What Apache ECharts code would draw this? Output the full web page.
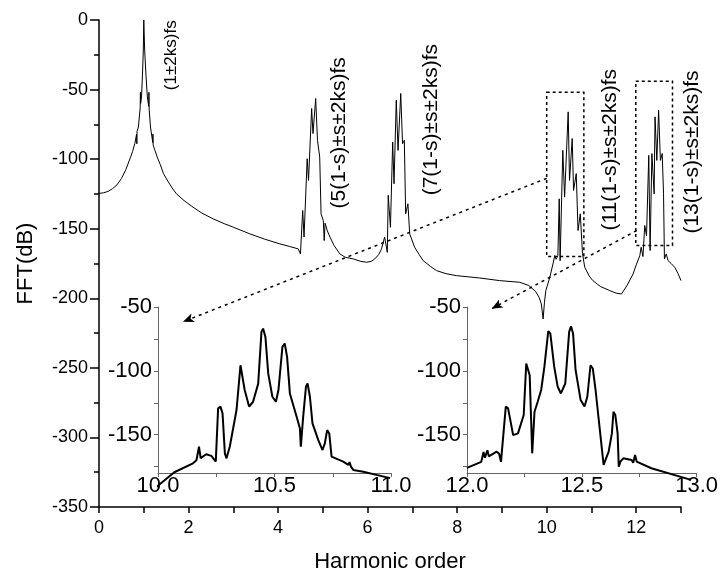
<!DOCTYPE html>
<html>
<head>
<meta charset="utf-8">
<script src="https://cdn.jsdelivr.net/npm/echarts@6/dist/echarts.min.js"></script>
<style>
  html, body { margin: 0; padding: 0; background: #fff; }
  #chart { width: 721px; height: 578px; }
</style>
</head>
<body>
<div id="chart"></div>
<script>
// main spectrum (harmonic order, dB)
var mainX = [0, 0.1, 0.2, 0.3, 0.4, 0.5, 0.6, 0.7, 0.75, 0.8,
  0.84, 0.845, 0.85, 0.88, 0.92, 0.925, 0.93, 0.95, 0.97, 0.99,
  1.0, 1.02, 1.05, 1.08, 1.11, 1.115, 1.12, 1.15, 1.2, 1.205,
  1.21, 1.25, 1.3, 1.37, 1.44, 1.55, 1.65, 1.73, 1.9, 2.1,
  2.3, 2.55, 2.8, 3.0, 3.37, 3.7, 4.04, 4.25, 4.45, 4.5,
  4.55, 4.58, 4.65, 4.68, 4.75, 4.78, 4.84, 4.88, 4.93, 4.96,
  5.01, 5.03, 5.05, 5.1, 5.16, 5.25, 5.38, 5.5, 5.68, 5.85,
  5.98, 6.08, 6.16, 6.25, 6.31, 6.38, 6.44, 6.46, 6.51, 6.56,
  6.59, 6.64, 6.68, 6.74, 6.78, 6.82, 6.85, 6.9, 6.94, 7.05,
  7.15, 7.24, 7.4, 7.54, 7.75, 7.98, 8.5, 8.95, 9.4, 9.6,
  9.75, 9.83, 9.88, 9.92, 9.95, 9.98, 10.07, 10.14, 10.18, 10.21,
  10.25, 10.28, 10.3, 10.36, 10.4, 10.48, 10.51, 10.57, 10.6, 10.66,
  10.7, 10.75, 10.8, 10.85, 10.95, 11.03, 11.2, 11.41, 11.55, 11.67,
  11.8, 11.93, 12.0, 12.08, 12.11, 12.15, 12.19, 12.23, 12.28, 12.31,
  12.35, 12.4, 12.42, 12.46, 12.5, 12.54, 12.58, 12.61, 12.63, 12.67,
  12.71, 12.78, 12.86, 12.93, 13.0];
var mainY = [-124.6, -124.2, -123.2, -121.3, -118.5, -114, -107.5, -99, -94.5, -88.8,
  -82, -89, -80, -76.9, -63, -52, -60, -55.3, -40, -21.6,
  0, -21.6, -40, -55.3, -62, -52, -64, -76.9, -88, -82,
  -90, -93.7, -98.5, -104, -110.4, -116.5, -121.5, -124.9, -129.8, -134.5,
  -138.8, -142.9, -146.4, -148.9, -153.7, -157.5, -160.9, -162.7, -164.5, -168.1,
  -136.9, -156, -99.7, -115.3, -63.6, -81.6, -56.4, -86.5, -98.5, -139.3,
  -144.1, -158.5, -146, -151.5, -156, -162, -168.1, -170.5, -171.7, -173.5,
  -174.1, -173.5, -171.7, -168.5, -164.5, -156, -167, -126, -149, -87.7,
  -117.7, -57.6, -93.7, -52.8, -88.9, -86.5, -139.3, -132.1, -153.7, -163.3,
  -168.5, -172.9, -177, -180.1, -182.3, -183.7, -185.4, -187.3, -188.5, -190.8,
  -195, -199.3, -204, -214.9, -203, -194.5, -185, -175.3, -169.3, -172,
  -169.3, -128.5, -173, -93.7, -127.3, -66, -115.3, -85.2, -122.5, -110.4,
  -151.3, -139.3, -168, -177.7, -184, -187.3, -191.5, -194.5, -196.3, -196.9,
  -190.5, -182.5, -176, -169.3, -163.3, -170, -147.7, -155, -97.3, -165.7,
  -96, -124.9, -69.6, -100.9, -64.8, -100.9, -96, -124.9, -171.7, -168.1,
  -172.9, -175, -177.7, -182, -187.3];

// inset 1 : 10 - 11
var zoom1X = [9.97, 10.07, 10.15, 10.165, 10.176, 10.183, 10.207, 10.229, 10.248, 10.258, 10.268, 10.277, 10.287, 10.294, 10.308, 10.337, 10.354, 10.362,
  10.372, 10.391, 10.408, 10.43, 10.444, 10.451, 10.461, 10.473, 10.491, 10.506, 10.517, 10.534, 10.544, 10.554, 10.566, 10.595, 10.609, 10.613,
  10.623, 10.635, 10.642, 10.652, 10.663, 10.688, 10.706, 10.716, 10.726, 10.735, 10.745, 10.795, 10.817, 10.822, 10.828, 10.838, 10.881, 10.996];
var zoom1Y = [-194.5, -179.4, -172.4, -170, -159.4, -168.4, -165.3, -166.6, -171, -129.4, -128, -133.3, -164.6, -168.5, -159.4, -130.7, -95.6, -96.9,
  -115, -128, -124.2, -110, -69.5, -66.9, -73.4, -102, -120.3, -124.2, -115, -81.2, -78.6, -89, -117.7, -136, -145, -159.4,
  -136, -112.5, -109.9, -120.3, -141.1, -154.2, -162, -156.8, -146.4, -149, -167.2, -171.1, -173.7, -171.5, -175, -177.6, -179, -184];

// inset 2 : 12 - 13
var zoom2X = [12.0, 12.062, 12.072, 12.078, 12.089, 12.095, 12.129, 12.14, 12.148, 12.169, 12.179, 12.201, 12.222, 12.247, 12.258, 12.265, 12.273, 12.284,
  12.294, 12.308, 12.323, 12.337, 12.354, 12.363, 12.38, 12.395, 12.409, 12.428, 12.445, 12.453, 12.462, 12.473, 12.495, 12.512, 12.524, 12.538,
  12.548, 12.56, 12.574, 12.595, 12.617, 12.631, 12.638, 12.646, 12.656, 12.661, 12.668, 12.681, 12.717, 12.724, 12.732, 12.739, 12.803, 12.976];
var zoom2Y = [-176, -171.3, -163.5, -168, -162.2, -167, -163.3, -165, -171.3, -128, -129.4, -150.3, -149, -134.6, -94.3, -93, -103.4, -164.6,
  -132, -124.2, -115, -96.9, -68.8, -70.8, -96.9, -112.5, -117.7, -109.9, -69.5, -65.1, -70.8, -99.5, -122.9, -128, -120.3, -95.6,
  -98.2, -115, -138.5, -173.7, -163.3, -149, -132, -134.6, -149, -175, -171.1, -168.5, -169.8, -171.9, -165.9, -171.1, -176.3, -185.4];

// annotations: [text, x, y of text start, font size]
var peakLabels = [
  ['(1±2ks)fs', 1.61, -50.4, 17],
  ['(5(1-s)±s±2ks)fs', 5.36, -135.5, 21],
  ['(7(1-s)±s±2ks)fs', 7.41, -126, 21],
  ['(11(1-s)±s±2ks)fs', 11.41, -151.3, 21],
  ['(13(1-s)±s±2ks)fs', 13.24, -153.5, 21]
];
// dotted boxes [x0, y0, x1, y1] and arrows [from, to]
var boxes = [[10.0, -52, 10.83, -170], [11.99, -44, 12.81, -162]];
var arrows = [[[10.0, -113.8], [1.875, -216.9]], [[12.01, -151.3], [8.77, -207.5]]];

function pairs(xs, ys) {
  return xs.map(function (x, i) { return [x, ys[i]]; });
}

var FONT = 'Liberation Sans';
var chart = echarts.init(document.getElementById('chart'));

var insetY = function (idx) {
  return {
    type: 'value', gridIndex: idx, min: -180, max: -50,
    axisLine: { show: true, lineStyle: { color: '#666', width: 1 } },
    axisTick: { show: true, length: 4, lineStyle: { color: '#666' }, customValues: [-175, -150, -125, -100, -75, -50] },
    axisLabel: { fontFamily: FONT, fontSize: 22, color: '#000', margin: 6, customValues: [-150, -100, -50] },
    splitLine: { show: false }
  };
};
var insetX = function (idx, lo) {
  return {
    type: 'value', gridIndex: idx, min: lo, max: lo + 1, interval: 0.25,
    axisLine: { show: true, onZero: false, lineStyle: { color: '#666', width: 1 } },
    axisTick: { show: true, length: 4, lineStyle: { color: '#666' } },
    axisLabel: {
      fontFamily: FONT, fontSize: 22, color: '#000', margin: 2,
      formatter: function (v) { return Math.abs(v * 2 - Math.round(v * 2)) < 1e-6 ? v.toFixed(1) : ''; }
    },
    splitLine: { show: false }
  };
};

var option = {
  animation: false,
  backgroundColor: '#fff',
  grid: [
    { left: 99, top: 20, width: 582, height: 487 },
    { left: 158, top: 307, width: 233, height: 166 },
    { left: 467, top: 307, width: 232, height: 166 }
  ],
  xAxis: [
    {
      type: 'value', gridIndex: 0, min: 0, max: 13, interval: 1,
      name: 'Harmonic order', nameLocation: 'middle', nameGap: 44,
      nameTextStyle: { fontFamily: FONT, fontSize: 22, color: '#000' },
      axisLine: { show: true, onZero: false, lineStyle: { color: '#000', width: 1.5 } },
      axisTick: { show: true, length: 6, lineStyle: { color: '#000', width: 1.5 } },
      axisLabel: {
        fontFamily: FONT, fontSize: 18, color: '#000', margin: 12,
        formatter: function (v) { return v % 2 === 0 ? String(v) : ''; }
      },
      splitLine: { show: false }
    },
    insetX(1, 10),
    insetX(2, 12)
  ],
  yAxis: [
    {
      type: 'value', gridIndex: 0, min: -350, max: 0, interval: 50,
      name: 'FFT(dB)', nameLocation: 'middle', nameGap: 62,
      nameTextStyle: { fontFamily: FONT, fontSize: 22, color: '#000' },
      axisLine: { show: true, lineStyle: { color: '#000', width: 1.5 } },
      axisTick: { show: true, length: 9, lineStyle: { color: '#000', width: 1.5 } },
      minorTick: { show: true, splitNumber: 2, length: 5, lineStyle: { color: '#000', width: 1.5 } },
      axisLabel: { fontFamily: FONT, fontSize: 18, color: '#000', margin: 11 },
      splitLine: { show: false }
    },
    insetY(1),
    insetY(2)
  ],
  series: [
    {
      type: 'line', xAxisIndex: 0, yAxisIndex: 0, data: pairs(mainX, mainY),
      showSymbol: false, symbol: 'none', lineStyle: { color: '#000', width: 1 },
      markArea: {
        silent: true,
        itemStyle: { color: 'rgba(0,0,0,0)', borderColor: '#000', borderWidth: 1.5, borderType: [3, 3] },
        data: boxes.map(function (b) { return [{ coord: [b[0], b[1]] }, { coord: [b[2], b[3]] }]; })
      },
      markLine: {
        silent: true, symbol: ['none', 'arrow'], symbolSize: [7, 11],
        label: { show: false },
        lineStyle: { color: '#000', width: 1.5, type: [3, 4] },
        data: arrows.map(function (a) { return [{ coord: a[0] }, { coord: a[1] }]; })
      }
    },
    {
      type: 'line', xAxisIndex: 1, yAxisIndex: 1, data: pairs(zoom1X, zoom1Y), clip: false,
      showSymbol: false, symbol: 'none', lineStyle: { color: '#000', width: 2 }
    },
    {
      type: 'line', xAxisIndex: 2, yAxisIndex: 2, data: pairs(zoom2X, zoom2Y), clip: false,
      showSymbol: false, symbol: 'none', lineStyle: { color: '#000', width: 2 }
    }
  ]
};
chart.setOption(option);

// vertical peak labels placed in data coords of the main grid
var texts = peakLabels.map(function (p) {
  var pt = chart.convertToPixel({ gridIndex: 0 }, [p[1], p[2]]);
  return {
    type: 'text', x: pt[0], y: pt[1], rotation: Math.PI / 2, silent: true,
    style: { text: p[0], font: p[3] + 'px "' + FONT + '"', fill: '#000', align: 'left', verticalAlign: 'middle' }
  };
});
chart.setOption({ graphic: texts });
</script>
</body>
</html>
